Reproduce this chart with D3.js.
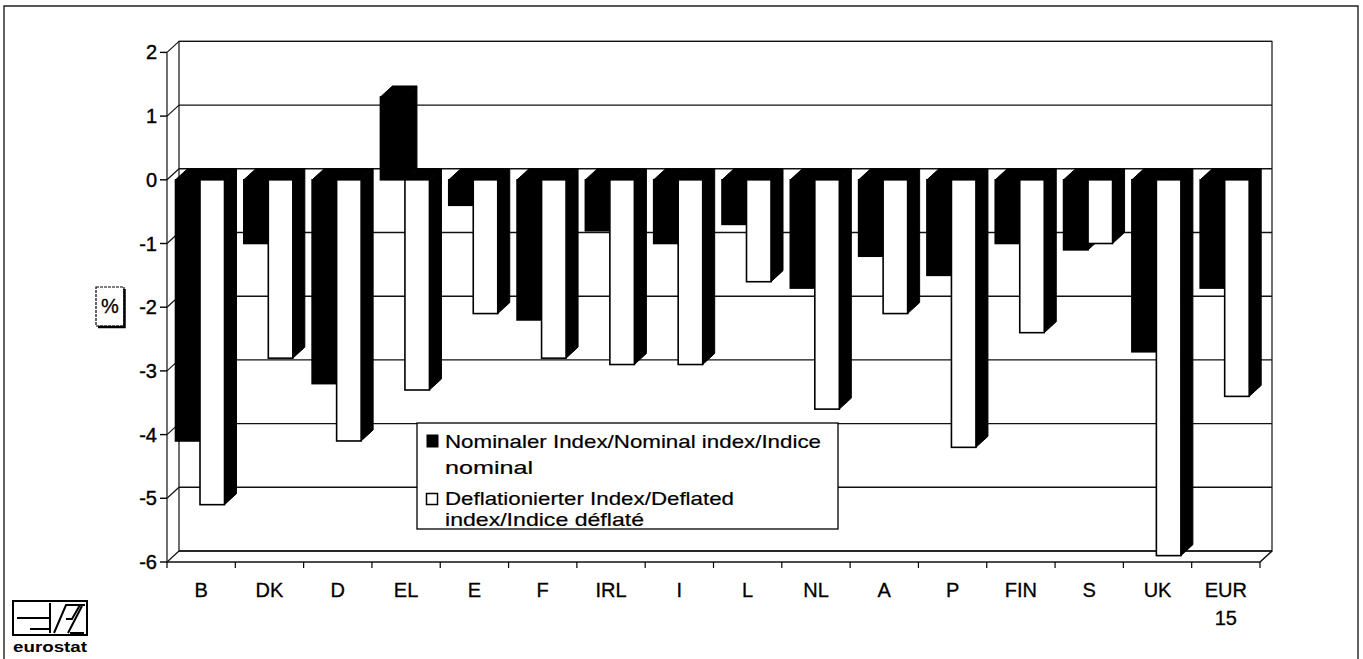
<!DOCTYPE html>
<html>
<head>
  <script src="https://d3js.org/d3.v7.min.js"></script>
  <style>
    body { margin: 0; background: #fff; }
    text { font-family: "Liberation Sans", Arial, sans-serif; fill: #000; }
  </style>
</head>
<body>
  <script>
    var width = 1363,
        height = 659;

    var categories = ["B", "DK", "D", "EL", "E", "F", "IRL", "I", "L", "NL", "A", "P", "FIN", "S", "UK", "EUR 15"];
    var nominal  = [-4.1, -1.0, -3.2, 1.3, -0.4, -2.2, -0.8, -1.0, -0.7, -1.7, -1.2, -1.5, -1.0, -1.1, -2.7, -1.7];
    var deflated = [-5.1, -2.8, -4.1, -3.3, -2.1, -2.8, -2.9, -2.9, -1.6, -3.6, -2.1, -4.2, -2.4, -1.0, -5.9, -3.4];
    var yTicks = [2, 1, 0, -1, -2, -3, -4, -5, -6];
    var seriesKeys = ["nominal", "deflated"];
    var legendLines = [
      ["Nominaler Index/Nominal index/Indice", "nominal"],
      ["Deflationierter Index/Deflated", "index/Indice déflaté"]
    ];

    var svg = d3.select("body").append("svg").attr("width", width).attr("height", height);

    var x = d3.scaleBand().domain(categories).range([167, 1260]);
    var y = d3.scaleLinear().domain([-6, 2]).range([562, 52.4]);
    var xs = d3.scaleBand().domain(seriesKeys).range([8.5, 57.5]);
    var DX = 12, DY = -11;
    var x0 = x.range()[0], x1 = x.range()[1];

    // page frame
    svg.append("path")
      .attr("d", "M4,659 V6 H1358 V659")
      .attr("fill", "none").attr("stroke", "#222").attr("stroke-width", 1.4);

    // back wall + gridlines
    svg.append("rect")
      .attr("x", x0 + DX).attr("y", y(2) + DY)
      .attr("width", x1 - x0).attr("height", y(-6) - y(2))
      .attr("fill", "#fff").attr("stroke", "#111").attr("stroke-width", 1.2);

    svg.selectAll(".grid").data(yTicks).enter().append("line")
      .attr("x1", x0 + DX).attr("x2", x1 + DX)
      .attr("y1", function(d) { return y(d) + DY; })
      .attr("y2", function(d) { return y(d) + DY; })
      .attr("stroke", "#111").attr("stroke-width", 1.4);

    // left wall diagonals
    svg.selectAll(".diag").data(yTicks).enter().append("line")
      .attr("x1", x0).attr("x2", x0 + DX)
      .attr("y1", function(d) { return y(d); })
      .attr("y2", function(d) { return y(d) + DY; })
      .attr("stroke", "#111").attr("stroke-width", 1.2);

    // front left edge, floor
    svg.append("line").attr("x1", x0).attr("x2", x0).attr("y1", y(2)).attr("y2", y(-6))
      .attr("stroke", "#111").attr("stroke-width", 1.2);
    svg.append("path")
      .attr("d", "M" + x0 + "," + y(-6) + "H" + x1 + "L" + (x1 + DX) + "," + (y(-6) + DY))
      .attr("fill", "none").attr("stroke", "#111").attr("stroke-width", 1.6);

    // y ticks + labels
    svg.selectAll(".ytick").data(yTicks).enter().append("line")
      .attr("x1", x0 - 7).attr("x2", x0)
      .attr("y1", function(d) { return y(d); }).attr("y2", function(d) { return y(d); })
      .attr("stroke", "#000").attr("stroke-width", 1.4);
    svg.selectAll(".ylab").data(yTicks).enter().append("text")
      .attr("x", x0 - 10).attr("y", function(d) { return y(d) + 7; })
      .attr("text-anchor", "end").attr("font-size", 20)
      .attr("stroke", "#000").attr("stroke-width", 0.4)
      .text(function(d) { return d; });

    // x ticks
    var bounds = categories.map(function(c) { return x(c); }).concat([x1]);
    svg.selectAll(".xtick").data(bounds).enter().append("line")
      .attr("x1", function(d) { return d; }).attr("x2", function(d) { return d; })
      .attr("y1", y(-6)).attr("y2", y(-6) + 6)
      .attr("stroke", "#000").attr("stroke-width", 1.2);

    svg.selectAll(".xlab").data(categories).enter().append("text")
      .attr("text-anchor", "middle").attr("font-size", 20)
      .attr("stroke", "#000").attr("stroke-width", 0.3)
      .attr("transform", function(d) { return "translate(" + (x(d) + x.bandwidth() / 2) + ",597)"; })
      .each(function(d) {
        var t = d3.select(this);
        d.split(" ").forEach(function(part, i) {
          t.append("tspan").attr("x", 0).attr("dy", i ? 28 : 0).text(part);
        });
      });

    // bars
    var bars = [];
    categories.forEach(function(c, i) {
      bars.push({ cat: c, key: "nominal", value: nominal[i] });
      bars.push({ cat: c, key: "deflated", value: deflated[i] });
    });

    var g = svg.selectAll(".bar").data(bars).enter().append("g");
    g.each(function(d) {
      var b = d3.select(this);
      var bx0 = x(d.cat) + xs(d.key), bx1 = bx0 + xs.bandwidth();
      var yt = y(Math.max(0, d.value)), yb = y(Math.min(0, d.value));
      b.append("polygon")
        .attr("points", [[bx1, yt], [bx1 + DX, yt + DY], [bx1 + DX, yb + DY], [bx1, yb]].join(" "))
        .attr("fill", "#000").attr("stroke", "#000").attr("stroke-width", 1);
      b.append("polygon")
        .attr("points", [[bx0, yt], [bx0 + DX, yt + DY], [bx1 + DX, yt + DY], [bx1, yt]].join(" "))
        .attr("fill", "#000").attr("stroke", "#000").attr("stroke-width", 1);
      b.append("rect")
        .attr("x", bx0).attr("y", yt).attr("width", bx1 - bx0).attr("height", yb - yt)
        .attr("fill", d.key === "nominal" ? "#000" : "#fff")
        .attr("stroke", "#000").attr("stroke-width", 1.6);
    });

    // legend
    var lg = svg.append("g");
    lg.append("rect").attr("x", 417).attr("y", 423).attr("width", 421).attr("height", 106)
      .attr("fill", "#fff").attr("stroke", "#000").attr("stroke-width", 1.3);
    lg.append("rect").attr("x", 427).attr("y", 435).attr("width", 11).attr("height", 12)
      .attr("fill", "#000").attr("stroke", "#000");
    lg.append("rect").attr("x", 426.5).attr("y", 493.5).attr("width", 11).attr("height", 11)
      .attr("fill", "#fff").attr("stroke", "#000").attr("stroke-width", 1.5);
    var lgText = [
      { t: legendLines[0][0], y: 448, w: 376 },
      { t: legendLines[0][1], y: 474, w: 88 },
      { t: legendLines[1][0], y: 505, w: 289 },
      { t: legendLines[1][1], y: 526, w: 199 }
    ];
    lg.selectAll("text").data(lgText).enter().append("text")
      .attr("x", 445).attr("y", function(d) { return d.y; })
      .attr("font-size", 19)
      .attr("stroke", "#000").attr("stroke-width", 0.2)
      .attr("textLength", function(d) { return d.w; })
      .attr("lengthAdjust", "spacingAndGlyphs")
      .text(function(d) { return d.t; });

    // % unit box
    svg.append("rect").attr("x", 96).attr("y", 287).attr("width", 28).attr("height", 39)
      .attr("fill", "#fff").attr("stroke", "#000").attr("stroke-width", 1.2)
      .attr("stroke-dasharray", "3,1");
    svg.append("path").attr("d", "M124.5,289 V327 H98")
      .attr("fill", "none").attr("stroke", "#000").attr("stroke-width", 2.5);
    svg.append("text").attr("x", 110).attr("y", 313).attr("text-anchor", "middle")
      .attr("font-size", 20).attr("stroke", "#000").attr("stroke-width", 0.3).text("%");

    // eurostat logo
    var logo = svg.append("g").attr("fill", "none").attr("stroke", "#000").attr("stroke-width", 2);
    logo.append("rect").attr("x", 13).attr("y", 601).attr("width", 74).attr("height", 34);
    logo.append("path").attr("d", "M17,618 H50 M30,629 H50 M50,603 V633 M54,633 L66,605 H85 M66,619 H72 L80,605 M68,633 L82,606 M70,633 H84");
    svg.append("text").attr("x", 13).attr("y", 652).attr("font-size", 15).attr("font-weight", "bold")
      .attr("textLength", 74).attr("lengthAdjust", "spacingAndGlyphs").text("eurostat");
  </script>
</body>
</html>
